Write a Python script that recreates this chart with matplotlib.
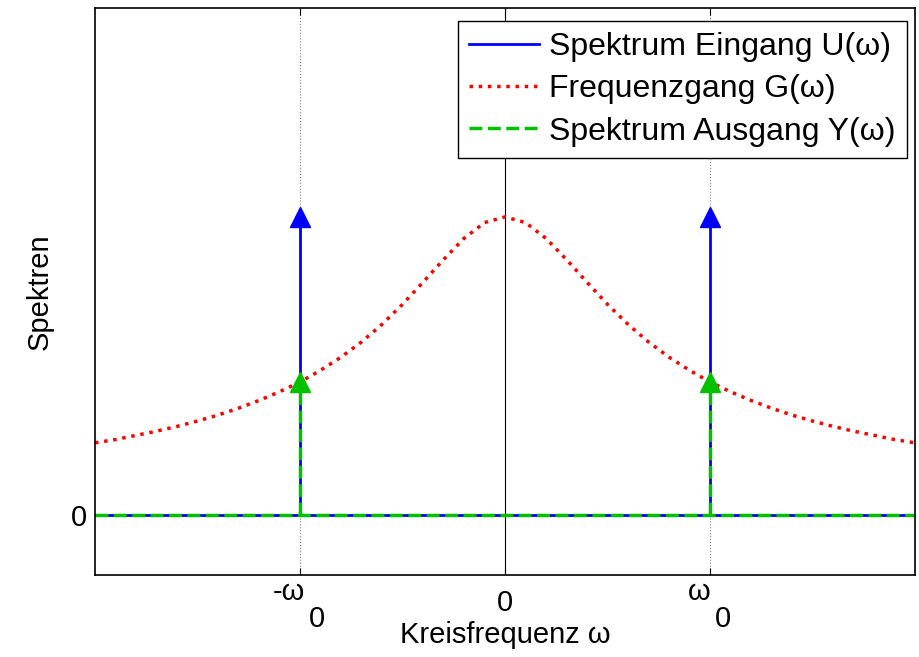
import matplotlib.pyplot as plt
import numpy as np

plt.rcParams['font.family'] = ['Liberation Sans', 'DejaVu Sans']

# frequency axis (in units of omega_0) and read-off magnitude of G
omega = [-2.0, -1.9, -1.8, -1.7, -1.6, -1.5, -1.4, -1.3, -1.2, -1.1, -1.0,
         -0.9, -0.8, -0.7, -0.6, -0.5, -0.4, -0.3, -0.2, -0.1, 0.0,
         0.1, 0.2, 0.3, 0.4, 0.5, 0.6, 0.7, 0.8, 0.9, 1.0,
         1.1, 1.2, 1.3, 1.4, 1.5, 1.6, 1.7, 1.8, 1.9, 2.0]
G_mag = [0.243, 0.254, 0.268, 0.282, 0.298, 0.316, 0.336, 0.359, 0.385, 0.414, 0.447,
         0.486, 0.530, 0.581, 0.640, 0.707, 0.781, 0.857, 0.928, 0.981, 1.0,
         0.981, 0.928, 0.857, 0.781, 0.707, 0.640, 0.581, 0.530, 0.486, 0.447,
         0.414, 0.385, 0.359, 0.336, 0.316, 0.298, 0.282, 0.268, 0.254, 0.243]

# input spectrum: two lines at +-omega_0
w0 = [-1.0, 1.0]
U_amp = [1.0, 1.0]
Y_amp = [0.447, 0.447]

xticks = [-1.0, 0.0, 1.0]
# tick labels: main part and subscript (MATLAB style, subscript full size)
tick_main = [u'-ω', '0', u'ω']
tick_sub = ['0', '', '0']

fig = plt.figure(figsize=(9.19, 6.57), dpi=100)
ax = fig.add_axes([0.1034, 0.1248, 0.8922, 0.863])

# grid lines at +-omega_0, solid line at 0
for x in w0:
    ax.axvline(x, color='#808080', lw=0.8, ls=':', zorder=0)
ax.axvline(0, color='k', lw=0.8, zorder=0)

# U
ax.plot([-2, 2], [0, 0], color='b', lw=2, label=u'Spektrum Eingang U(ω)')
for x, a in zip(w0, U_amp):
    ax.plot([x, x], [0, a], color='b', lw=2)
    ax.plot(x, a, marker='^', color='b', ms=14, mec='b')

# G
ax.plot(omega, G_mag, color='r', ls=':', lw=2.5, label=u'Frequenzgang G(ω)')

# Y
ax.plot([-2, 2], [0, 0], color='#00c000', ls='--', lw=2.5, label=u'Spektrum Ausgang Y(ω)')
for x, a in zip(w0, Y_amp):
    ax.plot([x, x], [0, a], color='#00c000', ls='--', lw=2.5)
    ax.plot(x, a, marker='^', color='#00c000', ms=14, mec='#00c000')

ax.set_xlim(-2, 2)
ax.set_ylim(-0.2, 1.7)
ax.set_xticks(xticks)
ax.set_xticklabels([m if s == '' else '' for m, s in zip(tick_main, tick_sub)])
ax.set_yticks([0])
ax.set_yticklabels(['0'])
ax.tick_params(direction='in', top=True, right=True, labelsize=21, length=5)
ax.tick_params(axis='x', pad=10)
ax.tick_params(axis='y', pad=6)
for s in ax.spines.values():
    s.set_linewidth(1.2)

# subscripted tick labels drawn by hand
trans = ax.get_xaxis_transform()
for x, m, s in zip(xticks, tick_main, tick_sub):
    if s == '':
        continue
    shift = 1.5 if m.startswith('-') else -1.5
    ax.annotate(m, xy=(x, 0), xycoords=trans, xytext=(shift + 2, -18),
                textcoords='offset points', ha='right', va='baseline',
                fontsize=21, annotation_clip=False)
    ax.annotate(s, xy=(x, 0), xycoords=trans, xytext=(shift + 5, -37.5),
                textcoords='offset points', ha='left', va='baseline',
                fontsize=21, annotation_clip=False)

ax.set_xlabel(u'Kreisfrequenz ω', fontsize=21)
ax.xaxis.set_label_coords(0.5, -0.082)
ax.set_ylabel('Spektren', fontsize=21, labelpad=12)

leg = ax.legend(loc='upper right', bbox_to_anchor=(0.990, 0.977), fontsize=23,
                fancybox=False, framealpha=1, edgecolor='k', borderaxespad=0,
                handlelength=2.2, handletextpad=0.3, borderpad=0.35,
                labelspacing=0.38)
leg.get_frame().set_linewidth(1.0)

plt.savefig('out.png', dpi=100)
